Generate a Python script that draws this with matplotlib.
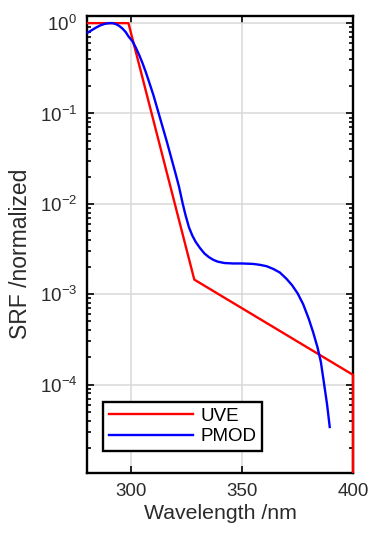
import numpy as np
import matplotlib
matplotlib.use("Agg")
import matplotlib.pyplot as plt
from matplotlib.ticker import FixedLocator, LogLocator, FuncFormatter, NullFormatter
from matplotlib.transforms import Bbox, TransformedBbox

plt.rcParams['font.family'] = ['Liberation Sans', 'DejaVu Sans']
plt.rcParams['mathtext.default'] = 'regular'

# UVE spectral response (wavelength nm, normalized SRF)
uve_wl = [280, 298.7, 328.4, 400, 400]
uve_srf = [1.0, 1.0, 1.45e-3, 1.28e-4, 1e-9]

# PMOD spectral response (read as log10 of SRF)
pmod_wl = [280, 282, 284, 286, 288, 290, 291.5, 293, 294.5, 296, 297.5, 298.8,
           300.5, 302, 303.5, 305, 306.5, 308, 310, 312, 314, 316, 318, 320,
           321.5, 323.2, 324.5, 326, 327.5, 329, 331, 333, 335, 337, 339, 342,
           346, 350, 355, 358, 361, 364, 367, 370, 372.5, 375, 377.5, 380,
           382, 384, 385.5, 387, 388.3, 389.5]
pmod_log = [-0.11, -0.08, -0.05, -0.025, -0.008, 0.0, 0.0, -0.01, -0.03, -0.06,
            -0.10, -0.15, -0.20, -0.27, -0.35, -0.44, -0.54, -0.65, -0.80, -0.97,
            -1.14, -1.31, -1.49, -1.67, -1.81, -2.0, -2.13, -2.26, -2.35, -2.42,
            -2.49, -2.55, -2.59, -2.62, -2.64, -2.655, -2.66, -2.66, -2.665,
            -2.675, -2.69, -2.72, -2.76, -2.83, -2.90, -2.99, -3.11, -3.27,
            -3.42, -3.59, -3.75, -4.0, -4.22, -4.47]
pmod_srf = [10 ** v for v in pmod_log]

x_ticks = [300, 350, 400]
y_ticks = [1e-4, 1e-3, 1e-2, 1e-1, 1e0]

fig = plt.figure(figsize=(3.71, 5.33), dpi=100)
ax = fig.add_axes([0.2345, 0.1126, 0.717, 0.8574])

l1, = ax.plot(uve_wl, uve_srf, color='#ff0000', lw=1.7, label='UVE', zorder=3)
l2, = ax.plot(pmod_wl, pmod_srf, color='#0000ff', lw=1.7, label='PMOD', zorder=3)
# let the red edge at 400 nm show over the right frame
l1.set_clip_box(TransformedBbox(Bbox([[0, 0], [1.02, 1]]), ax.transAxes))

ax.set_yscale('log')
ax.set_xlim(280, 400)
ax.set_ylim(1.05e-5, 1.2)

ax.xaxis.set_major_locator(FixedLocator(x_ticks))
ax.yaxis.set_major_locator(FixedLocator(y_ticks))
ax.yaxis.set_minor_locator(LogLocator(base=10, subs=np.arange(2, 10)))
ax.yaxis.set_minor_formatter(NullFormatter())
ax.yaxis.set_major_formatter(FuncFormatter(lambda v, p: '10$^{%d}$' % round(np.log10(v))))

ax.grid(True, which='major', color='#d9d9d9', lw=1.1)
ax.set_axisbelow(True)

ax.tick_params(which='both', direction='in', top=True, right=True, labelsize=13.5,
               width=1.2, labelcolor='#2b2b2b')
ax.tick_params(which='major', length=5, pad=7)
ax.tick_params(which='minor', length=3)
for s in ax.spines.values():
    s.set_linewidth(1.7)

ax.set_xlabel('Wavelength /nm', fontsize=15.3, color='#2b2b2b', va='top')
ax.set_ylabel('SRF /normalized', fontsize=16.5, color='#2b2b2b')
ax.xaxis.set_label_coords(0.5, -0.068)
ax.yaxis.set_label_coords(-0.205, 0.479)

leg = ax.legend(loc='lower left', bbox_to_anchor=(0.06, 0.048), borderaxespad=0,
                fontsize=13.5, fancybox=False, framealpha=1, edgecolor='black',
                handlelength=4.5, handletextpad=0.4, labelspacing=0.2,
                borderpad=0.3)
leg.get_frame().set_linewidth(1.7)

fig.savefig('out.png', dpi=100)
